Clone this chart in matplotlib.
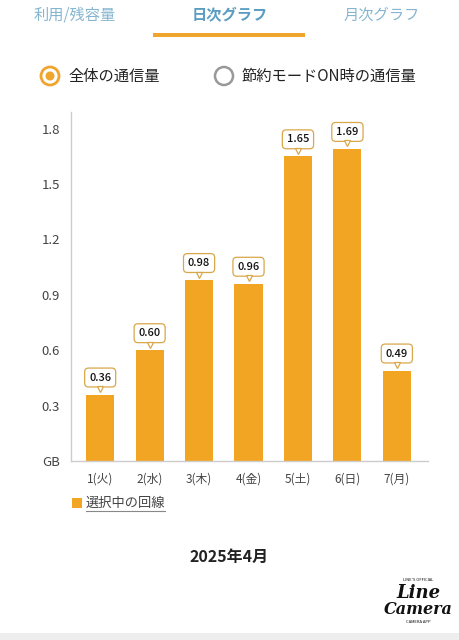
import matplotlib
matplotlib.use("Agg")
import matplotlib.pyplot as plt
from matplotlib.patches import Circle, Rectangle
import matplotlib.transforms as mtransforms

plt.rcParams['font.family'] = ['Noto Sans CJK JP', 'DejaVu Sans']

categories = ["1(火)", "2(水)", "3(木)", "4(金)", "5(土)", "6(日)", "7(月)"]
values = [0.36, 0.60, 0.98, 0.96, 1.65, 1.69, 0.49]
labels = ["0.36", "0.60", "0.98", "0.96", "1.65", "1.69", "0.49"]
yticks = [0, 0.3, 0.6, 0.9, 1.2, 1.5, 1.8]
ytick_labels = ["GB", "0.3", "0.6", "0.9", "1.2", "1.5", "1.8"]
tabs = ["利用/残容量", "日次グラフ", "月次グラフ"]
radios = ["全体の通信量", "節約モードON時の通信量"]
legend_label = "選択中の回線"
month_label = "2025年4月"

W, H = 459, 640
ORANGE = "#F2A522"
GOLD = "#D9A74A"

fig = plt.figure(figsize=(W / 100, H / 100), dpi=100)
fig.patch.set_facecolor("white")

# background overlay axes in pixel coordinates
bg = fig.add_axes([0, 0, 1, 1])
bg.set_xlim(0, W)
bg.set_ylim(H, 0)
bg.axis("off")

def fx(x):
    return x / W

def fy(y):
    return 1 - y / H

# Tabs
bg.text(75, 15, tabs[0], ha="center", va="center", fontsize=11, color="#86b6cf")
bg.text(230, 15, tabs[1], ha="center", va="center", fontsize=11, color="#5b9dc2", fontweight="bold")
bg.text(382, 15, tabs[2], ha="center", va="center", fontsize=11, color="#86b6cf")
bg.add_patch(Rectangle((153, 33), 152, 4, facecolor="#EFA52E", edgecolor="none"))

# Radio buttons
bg.add_patch(Circle((50, 76), 9, facecolor="white", edgecolor="#EFA52E", lw=2.0))
bg.add_patch(Circle((50, 76), 4.5, facecolor="#EFA52E", edgecolor="none"))
bg.text(68, 76, radios[0], ha="left", va="center", fontsize=11, color="#222222")
bg.add_patch(Circle((224, 76), 9, facecolor="white", edgecolor="#999999", lw=1.8))
bg.text(241, 76, radios[1], ha="left", va="center", fontsize=11, color="#222222")

# Legend
bg.add_patch(Rectangle((72, 498), 10, 10, facecolor=ORANGE, edgecolor="none"))
bg.text(86, 503, legend_label, ha="left", va="center", fontsize=9.5, color="#444444")
bg.plot([86, 165], [511, 511], color="#888888", lw=0.8)

bg.text(229, 557, month_label, ha="center", va="center", fontsize=11.5, color="#222222",
        fontweight="bold")

# Logo
bg.text(418, 593, "Line", ha="center", va="center", fontsize=13, color="#111111",
        fontweight="bold", style="italic", family="DejaVu Serif")
bg.text(418, 609, "Camera", ha="center", va="center", fontsize=11.5, color="#111111",
        fontweight="bold", style="italic", family="DejaVu Serif")
bg.text(418, 580, "LINE'S OFFICIAL", ha="center", va="center", fontsize=3, color="#111111")
bg.text(418, 622, "CAMERA APP", ha="center", va="center", fontsize=3, color="#111111")

bg.add_patch(Rectangle((0, 633), W, 7, facecolor="#eeeeee", edgecolor="none"))

# Axes
ax = fig.add_axes([fx(71), fy(461), fx(428 - 71), (461 - 112) / H])
x = list(range(len(categories)))
ax.bar(x, values, width=0.57, color=ORANGE, zorder=2)
ax.set_xlim(-0.59, 6.63)
ax.set_ylim(0, 1.89)
ax.set_yticks(yticks)
ax.set_yticklabels(ytick_labels, fontsize=9.5, color="#444444")
ax.set_xticks(x)
ax.set_xticklabels(categories, fontsize=8.5, color="#444444")
ax.tick_params(length=0, pad=8)
ax.tick_params(axis="x", pad=8)
for s in ["top", "right"]:
    ax.spines[s].set_visible(False)
for s in ["left", "bottom"]:
    ax.spines[s].set_color("#cccccc")
    ax.spines[s].set_linewidth(1)

PX = 0.72  # points per pixel at dpi 100
for xi, v, lab in zip(x, values, labels):
    ax.annotate(lab, (xi, v), xytext=(0, 17 * PX), textcoords="offset points",
                ha="center", va="center", fontsize=8, color="#111111", fontweight="medium",
                bbox=dict(boxstyle="round,pad=0.4,rounding_size=0.35", fc="white", ec=GOLD, lw=0.9),
                zorder=4)
    tr = mtransforms.offset_copy(ax.transData, fig=fig, x=0, y=5.5 * PX, units="points")
    ax.plot([xi], [v], marker="v", markersize=4.5, markerfacecolor="white", markeredgecolor=GOLD,
            markeredgewidth=0.9, transform=tr, zorder=5, clip_on=False)

fig.savefig("out.png", dpi=100, facecolor="white")
